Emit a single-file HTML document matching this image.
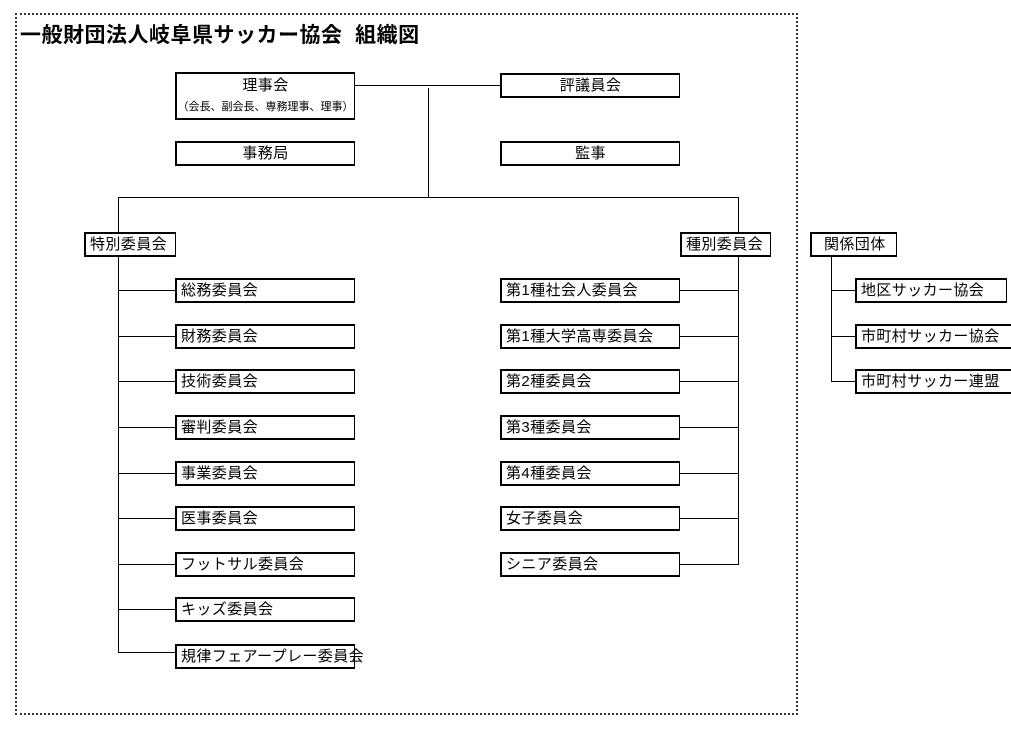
<!DOCTYPE html>
<html><head><meta charset="utf-8"><style>
body{margin:0;width:1011px;height:731px;background:#fff;position:relative;overflow:hidden;font-family:"Liberation Sans","Noto Sans CJK JP",sans-serif;color:#000}
.frame{position:absolute;left:15px;top:13px;width:779px;height:698px;border:2px dotted #333}
.t{position:absolute;left:20px;top:19px;font-size:21px;letter-spacing:0.5px;font-weight:bold;white-space:nowrap}
.b{position:absolute;box-sizing:border-box;border:2px solid #000;border-right-width:1px;height:25px;font-size:15px;letter-spacing:0.4px;line-height:21px;padding-left:4px;white-space:nowrap;background:#fff}
.c{text-align:center;padding-left:0}
.h{position:absolute;height:1px;background:#000}
.v{position:absolute;width:1px;background:#000}
</style></head><body>
<div class="frame"></div>
<div class="t">一般財団法人岐阜県サッカー協会&nbsp;&nbsp;組織図</div>

<div class="h" style="left:355px;top:85px;width:145px"></div>
<div class="v" style="left:428px;top:88px;height:109px"></div>
<div class="h" style="left:118px;top:197px;width:620px"></div>
<div class="v" style="left:118px;top:197px;height:456px"></div>
<div class="h" style="left:118px;top:652px;width:57px"></div>
<div class="v" style="left:738px;top:197px;height:368px"></div>
<div class="v" style="left:831px;top:256px;height:126px"></div>
<div class="h" style="left:831px;top:290px;width:24px"></div>
<div class="h" style="left:831px;top:336px;width:24px"></div>
<div class="h" style="left:831px;top:381px;width:24px"></div>

<div class="h" style="left:118px;top:290px;width:57px"></div>
<div class="h" style="left:118px;top:336px;width:57px"></div>
<div class="h" style="left:118px;top:381px;width:57px"></div>
<div class="h" style="left:118px;top:427px;width:57px"></div>
<div class="h" style="left:118px;top:473px;width:57px"></div>
<div class="h" style="left:118px;top:518px;width:57px"></div>
<div class="h" style="left:118px;top:564px;width:57px"></div>
<div class="h" style="left:118px;top:609px;width:57px"></div>

<div class="h" style="left:680px;top:290px;width:58px"></div>
<div class="h" style="left:680px;top:336px;width:58px"></div>
<div class="h" style="left:680px;top:381px;width:58px"></div>
<div class="h" style="left:680px;top:427px;width:58px"></div>
<div class="h" style="left:680px;top:473px;width:58px"></div>
<div class="h" style="left:680px;top:518px;width:58px"></div>
<div class="h" style="left:680px;top:564px;width:58px"></div>

<div class="b c" style="left:175px;top:72px;width:180px;height:48px;line-height:20px;padding-top:2px">理事会<br><span style="font-size:11px;letter-spacing:0">（会長、副会長、専務理事、理事）</span></div>
<div class="b c" style="left:500px;top:73px;width:180px">評議員会</div>
<div class="b c" style="left:175px;top:141px;width:180px">事務局</div>
<div class="b c" style="left:500px;top:141px;width:180px">監事</div>

<div class="b" style="left:84px;top:232px;width:92px">特別委員会</div>
<div class="b" style="left:680px;top:232px;width:91px">種別委員会</div>
<div class="b" style="left:810px;top:232px;width:87px;padding-left:12px">関係団体</div>

<div class="b" style="left:175px;top:278px;width:180px">総務委員会</div>
<div class="b" style="left:175px;top:324px;width:180px">財務委員会</div>
<div class="b" style="left:175px;top:369px;width:180px">技術委員会</div>
<div class="b" style="left:175px;top:415px;width:180px">審判委員会</div>
<div class="b" style="left:175px;top:461px;width:180px">事業委員会</div>
<div class="b" style="left:175px;top:506px;width:180px">医事委員会</div>
<div class="b" style="left:175px;top:552px;width:180px">フットサル委員会</div>
<div class="b" style="left:175px;top:597px;width:180px">キッズ委員会</div>
<div class="b" style="left:175px;top:644px;width:180px">規律フェアープレー委員会</div>

<div class="b" style="left:500px;top:278px;width:180px">第1種社会人委員会</div>
<div class="b" style="left:500px;top:324px;width:180px">第1種大学高専委員会</div>
<div class="b" style="left:500px;top:369px;width:180px">第2種委員会</div>
<div class="b" style="left:500px;top:415px;width:180px">第3種委員会</div>
<div class="b" style="left:500px;top:461px;width:180px">第4種委員会</div>
<div class="b" style="left:500px;top:506px;width:180px">女子委員会</div>
<div class="b" style="left:500px;top:552px;width:180px">シニア委員会</div>

<div class="b" style="left:855px;top:278px;width:152px">地区サッカー協会</div>
<div class="b" style="left:855px;top:324px;width:160px">市町村サッカー協会</div>
<div class="b" style="left:855px;top:369px;width:160px">市町村サッカー連盟</div>
</body></html>
